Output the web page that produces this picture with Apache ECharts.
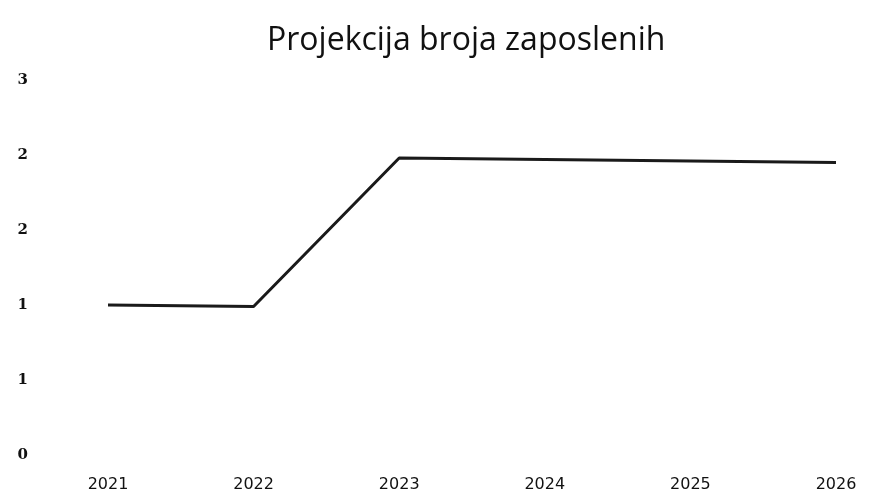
<!DOCTYPE html>
<html>
<head>
<meta charset="UTF-8">
<script type="text/javascript" src="https://cdn.jsdelivr.net/npm/echarts@6/dist/echarts.min.js"></script>
<title>Projekcija broja zaposlenih</title>
<style>
	html, body { margin: 0; padding: 0; background: #fff; }
	#main { width: 895px; height: 504px; }
</style>
<script>
	var years = ["2021", "2022", "2023", "2024", "2025", "2026"];
	var employees = [1, 0.99, 1.98, 1.97, 1.96, 1.95];
	var yTicks = [0, 0.5, 1, 1.5, 2, 2.5];
</script>
</head>
<body>
<div id="main"></div>
<script>
	var myChart = echarts.init(document.getElementById('main'));
	myChart.setOption({
		animation: false,
		title: {
			text: 'Projekcija broja zaposlenih',
			left: 262,
			top: 20,
			textStyle: {
				fontFamily: 'Open Sans',
				fontSize: 32,
				fontWeight: 'normal',
				color: '#111'
			}
		},
		grid: {
			left: 108,
			right: 59,
			top: 80,
			bottom: 49
		},
		xAxis: {
			type: 'category',
			boundaryGap: false,
			data: years,
			axisLine: { show: false },
			axisTick: { show: false },
			axisLabel: {
				margin: 22,
				fontFamily: 'DejaVu Sans',
				fontSize: 16,
				color: '#111'
			}
		},
		yAxis: {
			type: 'value',
			min: yTicks[0],
			max: yTicks[yTicks.length - 1],
			interval: 0.5,
			splitLine: { show: false },
			axisLine: { show: false },
			axisTick: { show: false },
			axisLabel: {
				margin: 80,
				fontFamily: 'DejaVu Serif',
				fontWeight: 'bold',
				fontSize: 15,
				color: '#111',
				formatter: function (v) {
					return Math.round(v);
				}
			}
		},
		series: [
			{
				name: 'Broj zaposlenih',
				type: 'line',
				data: employees,
				symbol: 'none',
				lineStyle: {
					color: '#1a1a1a',
					width: 3
				}
			}
		]
	});
</script>
</body>
</html>
